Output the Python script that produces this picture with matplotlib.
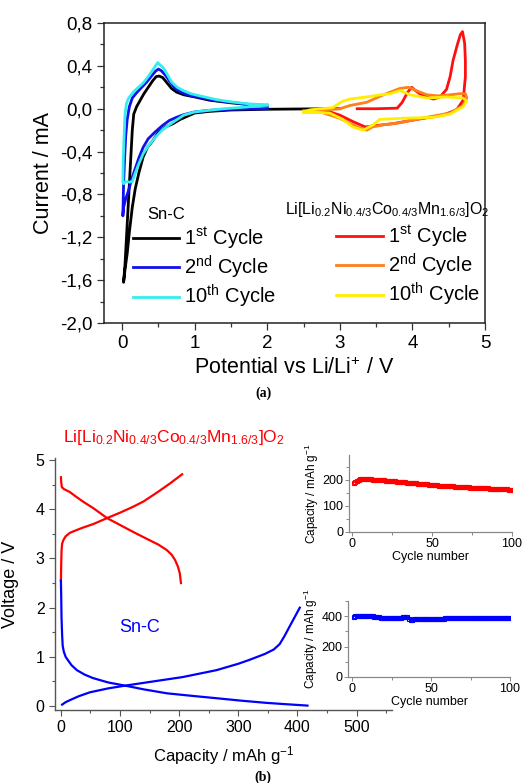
import numpy as np
import matplotlib.pyplot as plt
from matplotlib.ticker import FixedLocator, MultipleLocator, FuncFormatter

plt.rcParams['font.family'] = ['Liberation Sans', 'DejaVu Sans']
plt.rcParams['mathtext.default'] = 'regular'

# ---------------- (a) cyclic voltammetry ----------------
# Sn-C anode
snc1_v = [3.0, 2.5, 2.0, 1.5, 1.2, 1.0, 0.8, 0.7, 0.6, 0.5, 0.42, 0.35, 0.29, 0.23, 0.18, 0.14,
          0.1, 0.07, 0.04, 0.02, 0.04, 0.06, 0.08, 0.1, 0.12, 0.14, 0.16, 0.2, 0.25, 0.3, 0.36,
          0.42, 0.47, 0.51, 0.56, 0.62, 0.68, 0.75, 0.85, 1.0, 1.2, 1.5, 1.8, 2.0]
snc1_i = [0.0, -0.002, -0.005, -0.012, -0.025, -0.04, -0.1, -0.14, -0.17, -0.22, -0.3, -0.36,
          -0.45, -0.6, -0.75, -0.92, -1.15, -1.35, -1.5, -1.62, -1.45, -1.2, -0.95, -0.7, -0.45,
          -0.2, -0.05, 0.02, 0.08, 0.14, 0.2, 0.26, 0.3, 0.305, 0.29, 0.24, 0.19, 0.155, 0.13,
          0.11, 0.08, 0.055, 0.035, 0.025]

snc2_v = [2.0, 1.5, 1.2, 1.0, 0.85, 0.75, 0.65, 0.55, 0.45, 0.36, 0.29, 0.23, 0.18, 0.13, 0.09,
          0.05, 0.02, 0.01, 0.015, 0.02, 0.035, 0.05, 0.07, 0.1, 0.14, 0.2, 0.27, 0.34, 0.41,
          0.46, 0.5, 0.54, 0.6, 0.66, 0.73, 0.8, 0.9, 1.07, 1.3, 1.5, 1.75, 2.0]
snc2_i = [0.0, -0.005, -0.015, -0.03, -0.055, -0.08, -0.11, -0.16, -0.22, -0.28, -0.36, -0.46,
          -0.56, -0.66, -0.76, -0.84, -0.92, -1.0, -0.85, -0.7, -0.45, -0.25, -0.1, 0.02, 0.1,
          0.15, 0.2, 0.25, 0.31, 0.35, 0.37, 0.355, 0.31, 0.25, 0.19, 0.16, 0.13, 0.105, 0.075,
          0.06, 0.04, 0.03]

snc10_v = [2.0, 1.7, 1.4, 1.2, 1.0, 0.85, 0.76, 0.65, 0.55, 0.48, 0.38, 0.29, 0.22, 0.17, 0.14,
           0.1, 0.05, 0.02, 0.01, 0.015, 0.025, 0.04, 0.06, 0.09, 0.16, 0.29, 0.36, 0.43, 0.49,
           0.57, 0.63, 0.68, 0.76, 0.84, 0.95, 1.07, 1.3, 1.49, 1.75, 2.0]
snc10_i = [0.035, 0.015, 0.0, -0.015, -0.03, -0.06, -0.1, -0.15, -0.2, -0.25, -0.33, -0.42,
           -0.53, -0.62, -0.68, -0.685, -0.68, -0.7, -0.69, -0.5, -0.29, -0.05, 0.05, 0.1,
           0.16, 0.24, 0.3, 0.37, 0.43, 0.38, 0.31, 0.25, 0.2, 0.17, 0.14, 0.12, 0.085, 0.065,
           0.045, 0.035]

# Li-rich cathode
lr1_v = [3.24, 3.5, 3.79, 3.86, 3.93, 3.99, 4.04, 4.1, 4.2, 4.29, 4.38, 4.47, 4.52, 4.56, 4.62,
         4.66, 4.69, 4.72, 4.73, 4.73, 4.7, 4.61, 4.42, 4.06, 3.73, 3.46, 3.35, 3.18, 3.0, 2.82,
         2.5]
lr1_i = [0.0, 0.0, 0.005, 0.06, 0.15, 0.2, 0.17, 0.14, 0.11, 0.09, 0.11, 0.18, 0.3, 0.45,
         0.6, 0.69, 0.72, 0.61, 0.45, 0.3, 0.08, -0.01, -0.06, -0.1, -0.14, -0.16, -0.17, -0.12,
         -0.06, -0.02, -0.02]

lr2_v = [2.5, 2.8, 3.0, 3.14, 3.37, 3.6, 3.83, 3.95, 4.05, 4.2, 4.35, 4.52, 4.65, 4.73, 4.75,
         4.7, 4.52, 4.2, 3.83, 3.6, 3.45, 3.37, 3.24, 3.0, 2.73, 2.5]
lr2_i = [-0.02, -0.01, 0.0, 0.03, 0.06, 0.13, 0.19, 0.2, 0.17, 0.13, 0.12, 0.13, 0.14, 0.14,
         0.1, 0.03, -0.04, -0.08, -0.13, -0.15, -0.17, -0.2, -0.17, -0.09, -0.03, -0.03]

lr10_v = [2.5, 2.59, 2.9, 3.04, 3.14, 3.37, 3.56, 3.69, 3.83, 3.97, 4.2, 4.47, 4.7, 4.75, 4.7,
          4.52, 4.29, 3.83, 3.55, 3.46, 3.32, 3.18, 3.04, 2.86, 2.55, 2.5]
lr10_i = [-0.03, -0.01, 0.01, 0.07, 0.09, 0.11, 0.13, 0.14, 0.17, 0.13, 0.1, 0.11, 0.1, 0.07,
          0.02, -0.05, -0.08, -0.09, -0.1, -0.15, -0.2, -0.17, -0.1, -0.04, -0.03, -0.03]

cv_yticks = [-2.0, -1.6, -1.2, -0.8, -0.4, 0.0, 0.4, 0.8]
cycle_labels = ['1$^{st}$ Cycle', '2$^{nd}$ Cycle', '10$^{th}$ Cycle']

# ---------------- (b) charge / discharge ----------------
lr_ch_cap = [0, 0.5, 1, 2, 4, 8, 15, 25, 38, 55, 78, 100, 122, 140, 150, 165, 184, 195, 205]
lr_ch_v = [2.55, 2.9, 3.15, 3.3, 3.37, 3.45, 3.52, 3.57, 3.63, 3.7, 3.82, 3.93, 4.05, 4.16,
           4.24, 4.36, 4.52, 4.62, 4.71]
lr_dis_cap = [0, 0.5, 1.5, 5, 15, 25, 38, 55, 78, 100, 122, 140, 150, 165, 179, 187, 193, 198,
              201, 203]
lr_dis_v = [4.65, 4.55, 4.45, 4.41, 4.35, 4.26, 4.15, 4.02, 3.82, 3.68, 3.54, 3.43, 3.37, 3.28,
            3.17, 3.08, 2.97, 2.83, 2.7, 2.5]

snc_dis_cap = [0, 0.5, 1, 2, 3, 5, 8, 12, 18, 27, 40, 54, 80, 111, 140, 179, 220, 263, 305,
               348, 385, 417]
snc_dis_v = [2.55, 2.2, 1.8, 1.45, 1.22, 1.1, 1.0, 0.93, 0.83, 0.73, 0.64, 0.57, 0.48, 0.41,
             0.34, 0.26, 0.21, 0.16, 0.11, 0.065, 0.035, 0.01]
snc_ch_cap = [2, 8, 15, 30, 49, 80, 111, 150, 206, 263, 300, 319, 345, 360, 370, 378, 386, 395,
              404]
snc_ch_v = [0.03, 0.08, 0.12, 0.2, 0.28, 0.36, 0.42, 0.49, 0.59, 0.73, 0.86, 0.94, 1.06, 1.15,
            1.26, 1.42, 1.6, 1.8, 2.0]

cycles = list(range(1, 101))
lr_capacity = [189, 193, 197, 200, 202, 203, 204, 204, 203, 203,
               202, 202, 201, 201, 200, 200, 199, 199, 198, 198,
               197, 197, 196, 196, 195, 194, 194, 193, 192, 192,
               191, 191, 190, 189, 189, 188, 188, 187, 186, 186,
               185, 185, 184, 184, 183, 182, 182, 181, 181, 180,
               180, 179, 179, 178, 178, 177, 177, 177, 176, 176,
               175, 175, 175, 174, 174, 173, 173, 173, 172, 172,
               172, 171, 171, 170, 170, 170, 169, 169, 169, 168,
               168, 168, 167, 167, 167, 166, 166, 166, 165, 165,
               165, 164, 164, 164, 163, 163, 163, 162, 162, 161]
snc_capacity = [398, 400, 401, 402, 403, 403, 403, 404, 403, 403,
                402, 401, 400, 398, 396, 394, 392, 390, 389, 389,
                389, 389, 389, 390, 390, 390, 390, 391, 391, 391,
                391, 392, 392, 394, 398, 380, 378, 378, 379, 379,
                380, 380, 380, 381, 381, 381, 382, 382, 382, 382,
                383, 383, 383, 383, 384, 384, 384, 384, 385, 385,
                385, 385, 385, 386, 386, 386, 386, 386, 387, 387,
                387, 387, 387, 388, 388, 388, 388, 388, 388, 388,
                389, 389, 389, 389, 389, 389, 388, 388, 388, 388,
                388, 388, 388, 388, 387, 387, 387, 387, 387, 386]

comma = FuncFormatter(lambda v, p: f"{v:.1f}".replace('.', ','))

fig = plt.figure(figsize=(5.26, 7.83), dpi=100)

# ----- panel (a) -----
ax1 = fig.add_axes([0.1977, 0.5875, 0.7243, 0.3831])
lw = 2.0
l1, = ax1.plot(snc1_v, snc1_i, color='black', lw=lw)
l2, = ax1.plot(snc2_v, snc2_i, color='#1010ee', lw=lw)
l3, = ax1.plot(snc10_v, snc10_i, color='#33eeee', lw=lw)
r1, = ax1.plot(lr1_v, lr1_i, color='#ff1010', lw=lw)
r2, = ax1.plot(lr2_v, lr2_i, color='#ff7f1a', lw=lw)
r3, = ax1.plot(lr10_v, lr10_i, color='#ffee00', lw=lw)

ax1.set_xlim(-0.25, 5)
ax1.set_ylim(-2.0, 0.8)
ax1.yaxis.set_major_locator(FixedLocator(cv_yticks))
ax1.yaxis.set_minor_locator(MultipleLocator(0.2))
ax1.yaxis.set_major_formatter(comma)
ax1.xaxis.set_major_locator(MultipleLocator(1))
ax1.xaxis.set_minor_locator(MultipleLocator(0.5))
ax1.tick_params(which='both', direction='out', labelsize=13.5, width=0.9, color='#333333')
ax1.tick_params(which='major', length=5)
ax1.tick_params(which='minor', length=3)
for s in ax1.spines.values():
    s.set_linewidth(1.1)
    s.set_color('#222222')
ax1.set_xlabel('Potential vs Li/Li$^{+}$ / V', fontsize=15.5, labelpad=4)
ax1.set_ylabel('Current / mA', fontsize=15.5, labelpad=4)

leg1 = ax1.legend([l1, l2, l3], cycle_labels, loc='upper left', bbox_to_anchor=(0.075, 0.325),
                  frameon=False, fontsize=14.5, handlelength=2.3, handletextpad=0.25,
                  labelspacing=0.12, borderpad=0, borderaxespad=0)
ax1.add_artist(leg1)
ax1.legend([r1, r2, r3], cycle_labels, loc='upper left', bbox_to_anchor=(0.61, 0.332),
           frameon=False, fontsize=14.5, handlelength=2.3, handletextpad=0.25,
           labelspacing=0.12, borderpad=0, borderaxespad=0)
ax1.text(0.113, 0.36, 'Sn-C', transform=ax1.transAxes, fontsize=12, va='center')
ax1.text(0.475, 0.377, 'Li[Li$_{0.2}$Ni$_{0.4/3}$Co$_{0.4/3}$Mn$_{1.6/3}$]O$_2$',
         transform=ax1.transAxes, fontsize=11.5, va='center')

fig.text(0.5, 1 - 393 / 783, '(a)', ha='center', va='center', fontsize=10,
         fontweight='bold', family='Liberation Serif')

# ----- panel (b) -----
ax2 = fig.add_axes([0.1046, 0.0932, 0.6407, 0.3218])
ax2.plot(lr_ch_cap, lr_ch_v, color='#ff0000', lw=1.6)
ax2.plot(lr_dis_cap, lr_dis_v, color='#ff0000', lw=1.6)
ax2.plot(snc_dis_cap, snc_dis_v, color='#0000ff', lw=1.6)
ax2.plot(snc_ch_cap, snc_ch_v, color='#0000ff', lw=1.6)
ax2.set_xlim(-10, 560)
ax2.set_ylim(-0.08, 5.04)
ax2.xaxis.set_major_locator(MultipleLocator(100))
ax2.xaxis.set_minor_locator(MultipleLocator(50))
ax2.yaxis.set_major_locator(FixedLocator([0, 1, 2, 3, 4, 5]))
ax2.yaxis.set_minor_locator(MultipleLocator(0.5))
ax2.spines['top'].set_visible(False)
ax2.spines['right'].set_visible(False)
for s in ['left', 'bottom']:
    ax2.spines[s].set_color('#555555')
    ax2.spines[s].set_linewidth(1.0)
ax2.tick_params(which='both', direction='out', labelsize=11.5, width=0.8, color='#555555')
ax2.tick_params(which='major', length=4)
ax2.tick_params(which='minor', length=2.5)
ax2.set_xlabel('Capacity / mAh g$^{-1}$', fontsize=12, labelpad=6)
ax2.set_ylabel('Voltage / V', fontsize=13, labelpad=12)
ax2.text(133, 1.59, 'Sn-C', color='#0000ff', fontsize=13, ha='center', va='center')
ax2.text(0.024, 1.083, 'Li[Li$_{0.2}$Ni$_{0.4/3}$Co$_{0.4/3}$Mn$_{1.6/3}$]O$_2$',
         color='#ff0000', transform=ax2.transAxes, fontsize=12.5, va='center')

fig.text(0.5, 1 - 777 / 783, '(b)', ha='center', va='center', fontsize=10,
         fontweight='bold', family='Liberation Serif')

# ----- insets: capacity vs cycle -----
ax3 = fig.add_axes([0.6635, 0.3206, 0.31, 0.0983])
ax3.plot(cycles, lr_capacity, color='#ff0000', marker='s', ms=3, mfc='none', mew=0.8, lw=0.8)
ax3.set_xlim(-2, 100)
ax3.set_ylim(0, 295)
ax3.yaxis.set_major_locator(FixedLocator([0, 100, 200]))
ax3.yaxis.set_minor_locator(MultipleLocator(50))

ax4 = fig.add_axes([0.6616, 0.1354, 0.308, 0.097])
ax4.plot(cycles, snc_capacity, color='#0000ff', marker='s', ms=3, mfc='none', mew=0.8, lw=0.8)
ax4.set_xlim(-2.6, 100)
ax4.set_ylim(0, 500)
ax4.yaxis.set_major_locator(FixedLocator([0, 200, 400]))
ax4.yaxis.set_minor_locator(MultipleLocator(100))

for ax in (ax3, ax4):
    ax.patch.set_alpha(0)
    ax.xaxis.set_major_locator(FixedLocator([0, 50, 100]))
    ax.xaxis.set_minor_locator(MultipleLocator(25))
    ax.spines['top'].set_visible(False)
    ax.spines['right'].set_visible(False)
    for s in ['left', 'bottom']:
        ax.spines[s].set_color('#888888')
        ax.spines[s].set_linewidth(0.9)
    ax.tick_params(which='both', direction='out', labelsize=9, width=0.7, color='#888888', pad=1)
    ax.tick_params(which='major', length=3)
    ax.tick_params(which='minor', length=2)
    ax.set_xlabel('Cycle number', fontsize=9, labelpad=1)
    ax.set_ylabel('Capacity / mAh g$^{-1}$', fontsize=8.5, labelpad=1)

fig.savefig('out.png', dpi=100)
